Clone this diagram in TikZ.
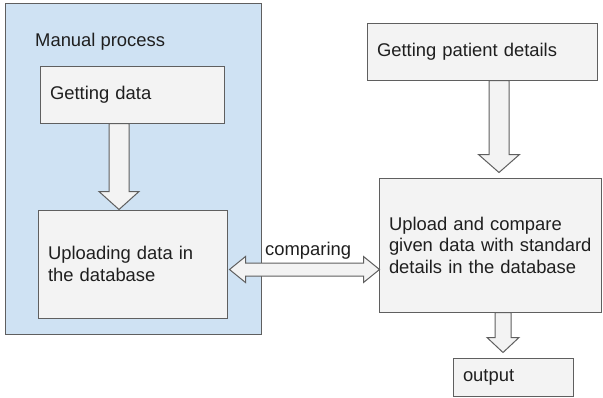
\documentclass[tikz,border=0pt]{standalone}
\usepackage{fontspec}
\setmainfont{Liberation Sans}
\usetikzlibrary{calc}
\definecolor{bluefill}{HTML}{CFE2F3}
\definecolor{boxfill}{HTML}{F3F3F3}
\definecolor{edgegray}{HTML}{5F5F5F}
\definecolor{txt}{HTML}{1F1F1F}
\begin{document}
\begin{tikzpicture}[x=1pt,y=-1pt,
  every node/.style={font=\fontsize{18.4}{21.5}\selectfont, text=txt},
  box/.style={draw=edgegray, fill=boxfill, line width=1pt, rectangle, inner xsep=10pt, inner ysep=0pt, align=left},
  blk/.style={draw=edgegray, fill=boxfill, line width=1pt, line join=miter},
  group/.style={draw=edgegray, fill=bluefill, line width=1pt, rectangle, inner sep=0pt},
  lbl/.style={anchor=base west, inner sep=0pt}]
\useasboundingbox (0,0) rectangle (603,397);
% container
\node[group, minimum width=256pt, minimum height=331pt] (manual) at (133,168.5) {};
\node[lbl] (mtitle) at (35,46) {Manual process};
% boxes
\node[box, text width=164pt, minimum height=57pt] (getdata) at (132,94.5) {Getting data};
\node[box, text width=169pt, minimum height=108pt] (upload) at (132.5,264) {\mbox{Uploading data in}\\\mbox{the database}};
\node[box, text width=210pt, minimum height=57pt] (patient) at (482,51.5) {\mbox{Getting patient details}};
\node[box, text width=202pt, minimum height=134pt] (compare) at (490,245) {\mbox{Upload and compare}\\\mbox{given data with standard}\\\mbox{details in the database}};
\node[box, text width=100pt, minimum height=38pt] (output) at (513,377) {output};
% block arrows
\draw[blk] let \p1=(getdata.south), \p2=(upload.north) in
  (109,\y1) -- (129,\y1) -- (129,\y2+18pt) -- (139,\y2+18pt) -- (119,\y2)
  -- (99,\y2+18pt) -- (109,\y2+18pt) -- cycle;
\draw[blk] let \p1=(patient.south), \p2=(compare.north) in
  (489,\y1) -- (509,\y1) -- (509,\y2+23pt) -- (519.5,\y2+23pt) -- (499,\y2+5pt)
  -- (478.5,\y2+23pt) -- (489,\y2+23pt) -- cycle;
\draw[blk] let \p1=(compare.south), \p2=(output.north) in
  (495,\y1) -- (511,\y1) -- (511,\y2+20pt) -- (519,\y2+20pt) -- (503,\y2+5pt)
  -- (487,\y2+20pt) -- (495,\y2+20pt) -- cycle;
\draw[blk] let \p1=(upload.east), \p2=(compare.west) in
  (\x1+2pt,269.5) -- (\x1+18pt,256.5) -- (\x1+18pt,263) -- (\x2-15pt,263)
  -- (\x2-15pt,256.5) -- (\x2+1pt,269.5) -- (\x2-15pt,282.5) -- (\x2-15pt,276)
  -- (\x1+18pt,276) -- (\x1+18pt,282.5) -- cycle;
\node[lbl] (cmp) at (265,255) {comparing};
\end{tikzpicture}
\end{document}
